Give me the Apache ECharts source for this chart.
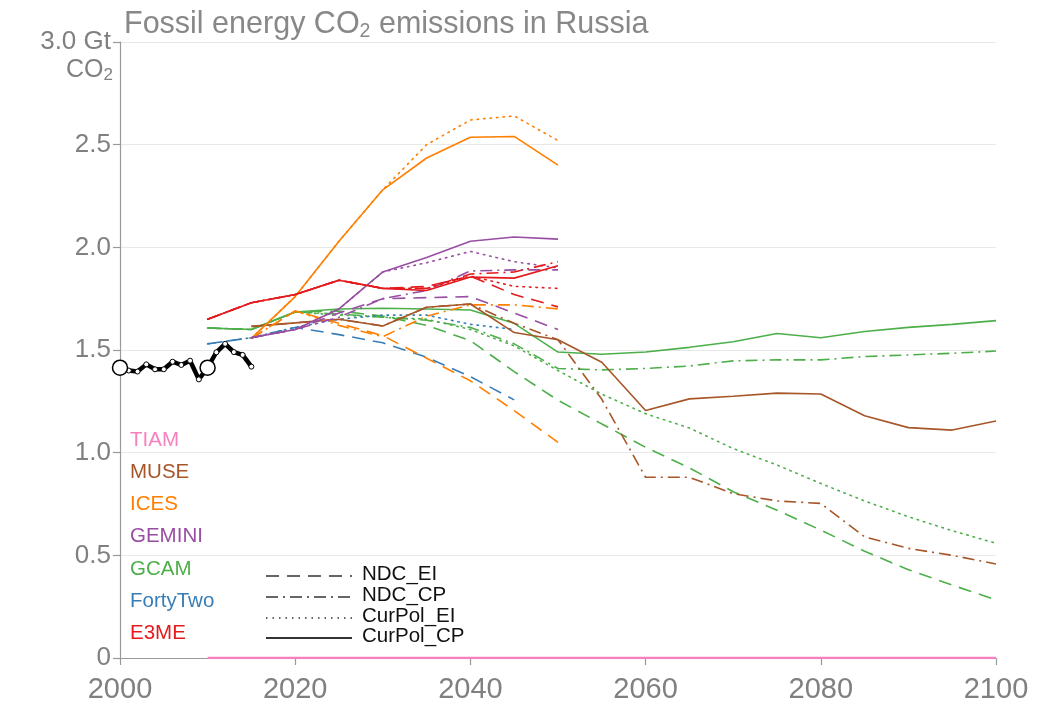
<!DOCTYPE html>
<html>
<head>
<meta charset="utf-8">
<script src="https://cdn.jsdelivr.net/npm/echarts@6/dist/echarts.min.js"></script>
<style>
html,body{margin:0;padding:0;background:#fff;}
#chart{width:1047px;height:709px;}
</style>
</head>
<body>
<div id="chart"></div>
<script>
// ---- data ----
const histYears = [2000,2001,2002,2003,2004,2005,2006,2007,2008,2009,2010,2011,2012,2013,2014,2015];
const histValues = [1.414,1.40,1.395,1.43,1.406,1.406,1.443,1.427,1.448,1.357,1.414,1.489,1.53,1.49,1.476,1.419];
const calibYears = [2000,2010];
const calibValues = [1.414,1.414];

const yrs2010_2050 = [2010,2015,2020,2025,2030,2035,2040,2045,2050];
const yrs2015_2050 = [2015,2020,2025,2030,2035,2040,2045,2050];
const yrs2010_2045 = [2010,2015,2020,2025,2030,2035,2040,2045];
const yrs2015_2100 = [2015,2020,2025,2030,2035,2040,2045,2050,2055,2060,2065,2070,2075,2080,2085,2090,2095,2100];
const yrs2010_2100 = [2010,2015,2020,2025,2030,2035,2040,2045,2050,2055,2060,2065,2070,2075,2080,2085,2090,2095,2100];

const e3me_CurPol_CP = [1.65,1.73,1.77,1.84,1.80,1.79,1.855,1.85,1.91];
const e3me_CurPol_EI = [1.65,1.73,1.77,1.84,1.80,1.80,1.86,1.81,1.80];
const e3me_NDC_EI   = [1.65,1.73,1.77,1.84,1.80,1.81,1.86,1.77,1.71];
const e3me_NDC_CP   = [1.65,1.73,1.77,1.84,1.80,1.80,1.87,1.88,1.93];

const gemini_CurPol_CP = [1.56,1.60,1.70,1.88,1.95,2.03,2.05,2.04];
const gemini_CurPol_EI = [1.56,1.60,1.70,1.88,1.925,1.98,1.93,1.90];
const gemini_NDC_EI   = [1.56,1.60,1.68,1.75,1.755,1.76,1.68,1.60];
const gemini_NDC_CP   = [1.56,1.60,1.66,1.75,1.79,1.885,1.89,1.89];

const ices_CurPol_CP = [1.557,1.76,2.03,2.28,2.435,2.536,2.54,2.40];
const ices_CurPol_EI = [1.557,1.76,2.03,2.28,2.50,2.62,2.64,2.52];
const ices_NDC_EI   = [1.557,1.69,1.63,1.57,1.46,1.35,1.205,1.05];
const ices_NDC_CP   = [1.557,1.69,1.62,1.565,1.665,1.72,1.72,1.70];

const muse_CurPol_CP = [1.615,1.632,1.65,1.617,1.708,1.724,1.585,1.55,1.44,1.205,1.262,1.275,1.29,1.286,1.18,1.122,1.11,1.154];
const muse_NDC_CP   = [1.615,1.632,1.65,1.617,1.708,1.724,1.63,1.55,1.26,0.88,0.88,0.80,0.765,0.753,0.59,0.534,0.50,0.458];

const gcam_CurPol_CP = [1.607,1.60,1.685,1.70,1.703,1.70,1.695,1.63,1.49,1.479,1.49,1.513,1.54,1.58,1.56,1.59,1.61,1.625,1.643];
const gcam_NDC_CP   = [1.607,1.60,1.685,1.675,1.66,1.645,1.61,1.53,1.41,1.403,1.41,1.422,1.447,1.452,1.452,1.468,1.476,1.484,1.495];
const gcam_CurPol_EI = [1.607,1.60,1.685,1.67,1.66,1.65,1.60,1.52,1.40,1.285,1.19,1.12,1.02,0.94,0.85,0.765,0.688,0.62,0.559];
const gcam_NDC_EI   = [1.607,1.60,1.685,1.69,1.665,1.62,1.545,1.395,1.255,1.14,1.026,0.926,0.81,0.72,0.623,0.52,0.43,0.355,0.283];

const ft_NDC_EI    = [1.53,1.56,1.61,1.575,1.535,1.465,1.37,1.257];
const ft_CurPol_EI = [1.53,1.56,1.61,1.65,1.67,1.67,1.625,1.60];

const tiam_CurPol_CP = [0,0,0,0,0,0,0,0,0,0,0,0,0,0,0,0,0,0,0];

const yTicks = [0,0.5,1.0,1.5,2.0,2.5,3.0];
const xTicks = [2000,2020,2040,2060,2080,2100];

const modelNames = ['TIAM','MUSE','ICES','GEMINI','GCAM','FortyTwo','E3ME'];
const scenarioNames = ['NDC_EI','NDC_CP','CurPol_EI','CurPol_CP'];

// ---- styles ----
const colors = {TIAM:'#f781bf', MUSE:'#a65628', ICES:'#ff7f00', GEMINI:'#984ea3', GCAM:'#4daf4a', FortyTwo:'#377eb8', E3ME:'#e41a1c'};
const dashes = {NDC_EI:[13,8], NDC_CP:[12,5,2,5], CurPol_EI:[1.5,5], CurPol_CP:'solid'};

function zip(xs, ys){ return xs.map((x,i)=>[x, ys[i]]); }
function scen(model, scenario, xs, ys, width){
  return {
    type:'line', name: model+' '+scenario, data: zip(xs, ys),
    symbol:'none', silent:true, animation:false,
    lineStyle:{color: colors[model], width: width || 1.6, type: dashes[scenario], cap: scenario==='CurPol_EI' ? 'round' : 'butt'},
    z: 2
  };
}

const histData = histYears.map((x,i)=>{
  const item = {value:[x, histValues[i]]};
  if (calibYears.indexOf(x) >= 0) item.symbol = 'none';
  return item;
});

const series = [
  scen('TIAM','CurPol_CP', yrs2010_2100, tiam_CurPol_CP, 2.6),
  scen('GCAM','NDC_EI', yrs2010_2100, gcam_NDC_EI),
  scen('GCAM','CurPol_EI', yrs2010_2100, gcam_CurPol_EI),
  scen('GCAM','NDC_CP', yrs2010_2100, gcam_NDC_CP),
  scen('GCAM','CurPol_CP', yrs2010_2100, gcam_CurPol_CP),
  scen('FortyTwo','NDC_EI', yrs2010_2045, ft_NDC_EI),
  scen('FortyTwo','CurPol_EI', yrs2010_2045, ft_CurPol_EI),
  scen('MUSE','NDC_CP', yrs2015_2100, muse_NDC_CP),
  scen('MUSE','CurPol_CP', yrs2015_2100, muse_CurPol_CP),
  scen('ICES','NDC_EI', yrs2015_2050, ices_NDC_EI),
  scen('ICES','NDC_CP', yrs2015_2050, ices_NDC_CP),
  scen('ICES','CurPol_EI', yrs2015_2050, ices_CurPol_EI),
  scen('ICES','CurPol_CP', yrs2015_2050, ices_CurPol_CP),
  scen('GEMINI','NDC_EI', yrs2015_2050, gemini_NDC_EI),
  scen('GEMINI','NDC_CP', yrs2015_2050, gemini_NDC_CP),
  scen('GEMINI','CurPol_EI', yrs2015_2050, gemini_CurPol_EI),
  scen('GEMINI','CurPol_CP', yrs2015_2050, gemini_CurPol_CP),
  scen('E3ME','NDC_EI', yrs2010_2050, e3me_NDC_EI),
  scen('E3ME','CurPol_EI', yrs2010_2050, e3me_CurPol_EI),
  scen('E3ME','NDC_CP', yrs2010_2050, e3me_NDC_CP),
  scen('E3ME','CurPol_CP', yrs2010_2050, e3me_CurPol_CP),
  {
    type:'line', name:'History', data: histData,
    symbol:'circle', symbolSize:5, showSymbol:true, silent:true, animation:false,
    lineStyle:{color:'#000', width:4.5},
    itemStyle:{color:'#fff', borderColor:'#000', borderWidth:1},
    z: 5
  },
  {
    type:'scatter', name:'Calibration', data: zip(calibYears, calibValues),
    symbol:'circle', symbolSize:15, silent:true, animation:false,
    itemStyle:{color:'#fff', borderColor:'#000', borderWidth:1.5, opacity:1},
    z: 6
  }
];

// legend graphics (not data marks)
const font = 'Liberation Sans, Arial, Helvetica, sans-serif';
const graphics = [];
const modelY = [441,473,505,537,570,602,634];
modelNames.forEach((m,i)=>{
  graphics.push({type:'text', left:130, top: modelY[i]-11, silent:true,
    style:{text:m, fill: colors[m], font: '20.5px '+font}});
});
const scenY = [576,597,618,638];
scenarioNames.forEach((s,i)=>{
  const d = dashes[s];
  graphics.push({type:'line', silent:true,
    shape:{x1:266, y1:scenY[i], x2:352, y2:scenY[i]},
    style:{stroke:'#333', lineWidth: s==='CurPol_CP'?2:1.6, lineDash: d==='solid'?null:d}});
  graphics.push({type:'text', left:362, top: scenY[i]-12, silent:true,
    style:{text:s, fill:'#111', font:'20.5px '+font}});
});
// unit under top tick
graphics.push({type:'text', right: 1047-113, top: 58, silent:true,
  style:{text:'CO{sub|2}', fill:'#808080', font:'25px '+font, align:'right',
    rich:{sub:{fontSize:17, fill:'#808080', fontFamily:font, padding:[10,0,0,0]}}}});

const chart = echarts.init(document.getElementById('chart'), null, {renderer:'canvas'});
chart.setOption({
  animation:false,
  backgroundColor:'#fff',
  title:{
    text:'Fossil energy CO{sub|2} emissions in Russia',
    left:119, top:3,
    textStyle:{fontSize:30.5, fontWeight:'normal', color:'#888', fontFamily:font,
      rich:{sub:{fontSize:19.5, color:'#888', fontFamily:font, padding:[14,0,0,0]}}}
  },
  grid:{left:120, right:51, top:42, bottom:51, containLabel:false},
  xAxis:{
    type:'value', min:2000, max:2100, interval:20,
    axisLine:{show:true, lineStyle:{color:'#999', width:1.2}},
    axisTick:{show:true, length:7, lineStyle:{color:'#999', width:1.2}},
    axisLabel:{color:'#808080', fontSize:29, fontFamily:font, margin:17,
      formatter:(v)=> xTicks.indexOf(v)>=0 ? String(v) : ''},
    splitLine:{show:false}
  },
  yAxis:{
    type:'value', min:0, max:3, interval:0.5,
    axisLine:{show:true, lineStyle:{color:'#999', width:1.2}},
    axisTick:{show:true, length:7, lineStyle:{color:'#999', width:1.2}},
    axisLabel:{color:'#808080', fontSize:26, fontFamily:font, margin:9,
      formatter:(v)=>{ if(v===0) return '0'; if(Math.abs(v-3)<1e-9) return '3.0 Gt'; return yTicks.indexOf(v)>=0 ? v.toFixed(1) : ''; }},
    splitLine:{show:true, lineStyle:{color:'#e8e8e8', width:1.2}}
  },
  graphic: graphics,
  series: series
});
</script>
</body>
</html>
